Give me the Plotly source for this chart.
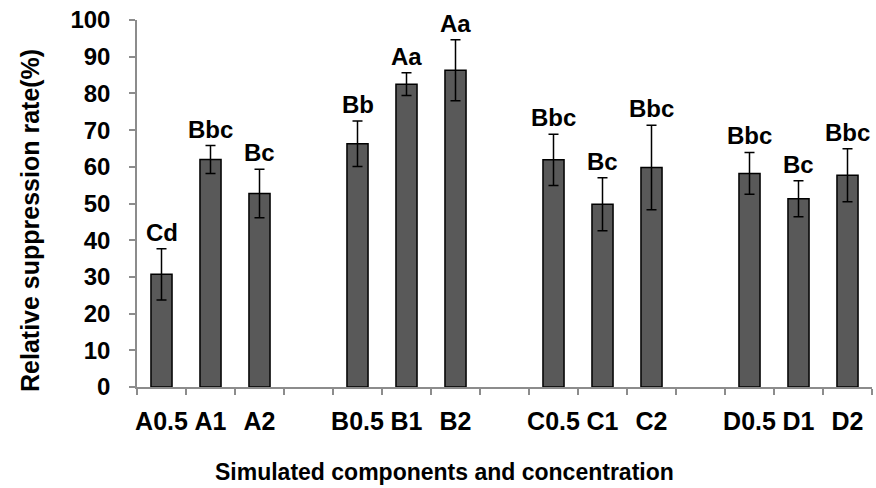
import plotly.graph_objects as go

categories = ["A0.5", "A1", "A2", "B0.5", "B1", "B2", "C0.5", "C1", "C2", "D0.5", "D1", "D2"]
axis_order = ["A0.5", "A1", "A2", " ", "B0.5", "B1", "B2", "  ", "C0.5", "C1", "C2", "   ", "D0.5", "D1", "D2"]
values = [30.7, 62.0, 52.7, 66.3, 82.5, 86.3, 61.9, 49.8, 59.8, 58.2, 51.3, 57.7]
errors = [7.0, 3.8, 6.6, 6.2, 3.1, 8.3, 7.0, 7.2, 11.5, 5.7, 4.9, 7.2]
letters = ["Cd", "Bbc", "Bc", "Bb", "Aa", "Aa", "Bbc", "Bc", "Bbc", "Bbc", "Bc", "Bbc"]

FONT = "Liberation Sans, Arial, sans-serif"

fig = go.Figure()
fig.add_trace(go.Bar(
    x=categories, y=values,
    width=0.43,
    marker=dict(color="#595959", line=dict(color="#000000", width=1.5)),
    error_y=dict(type="data", array=errors, visible=True, color="#000000", thickness=1.5, width=5),
))

for c, v, e, t in zip(categories, values, errors, letters):
    fig.add_annotation(x=c, y=v + e, text=t, showarrow=False, yanchor="bottom", yshift=1,
                       font=dict(family=FONT, size=24, color="#000000", weight="bold"))

fig.add_annotation(xref="paper", yref="paper", x=0.418, y=-0.232, text="Simulated components and concentration",
                   showarrow=False, xanchor="center", yanchor="middle",
                   font=dict(family=FONT, size=23, color="#000000", weight="bold"))
fig.add_annotation(xref="paper", yref="paper", x=-0.1456, y=0.455, text="Relative suppression rate(%)",
                   showarrow=False, textangle=-90, xanchor="center", yanchor="middle",
                   font=dict(family=FONT, size=25, color="#000000", weight="bold"))

fig.update_layout(
    width=876, height=488,
    margin=dict(l=137, r=4, t=20, b=101),
    plot_bgcolor="white", paper_bgcolor="white",
    showlegend=False,
    font=dict(family=FONT, color="#000000"),
    xaxis=dict(
        type="category", categoryorder="array", categoryarray=axis_order,
        range=[-0.5, 14.5], tickson="boundaries", tickangle=0,
        showline=True, linecolor="#8c8c8c", linewidth=1.5,
        ticks="outside", ticklen=6, tickcolor="#8c8c8c", tickwidth=1.5,
        tickfont=dict(family=FONT, size=25, color="#000000", weight="bold"),
        ticklabelstandoff=11,
        showgrid=False, zeroline=False,
    ),
    yaxis=dict(
        range=[0, 100], dtick=10, tick0=0,
        showline=True, linecolor="#8c8c8c", linewidth=1.5,
        ticks="outside", ticklen=6, tickcolor="#8c8c8c", tickwidth=1.5,
        tickfont=dict(family=FONT, size=24, color="#000000", weight="bold"),
        ticklabelstandoff=14,
        showgrid=False, zeroline=False,
    ),
)

fig.write_html("out.html")
